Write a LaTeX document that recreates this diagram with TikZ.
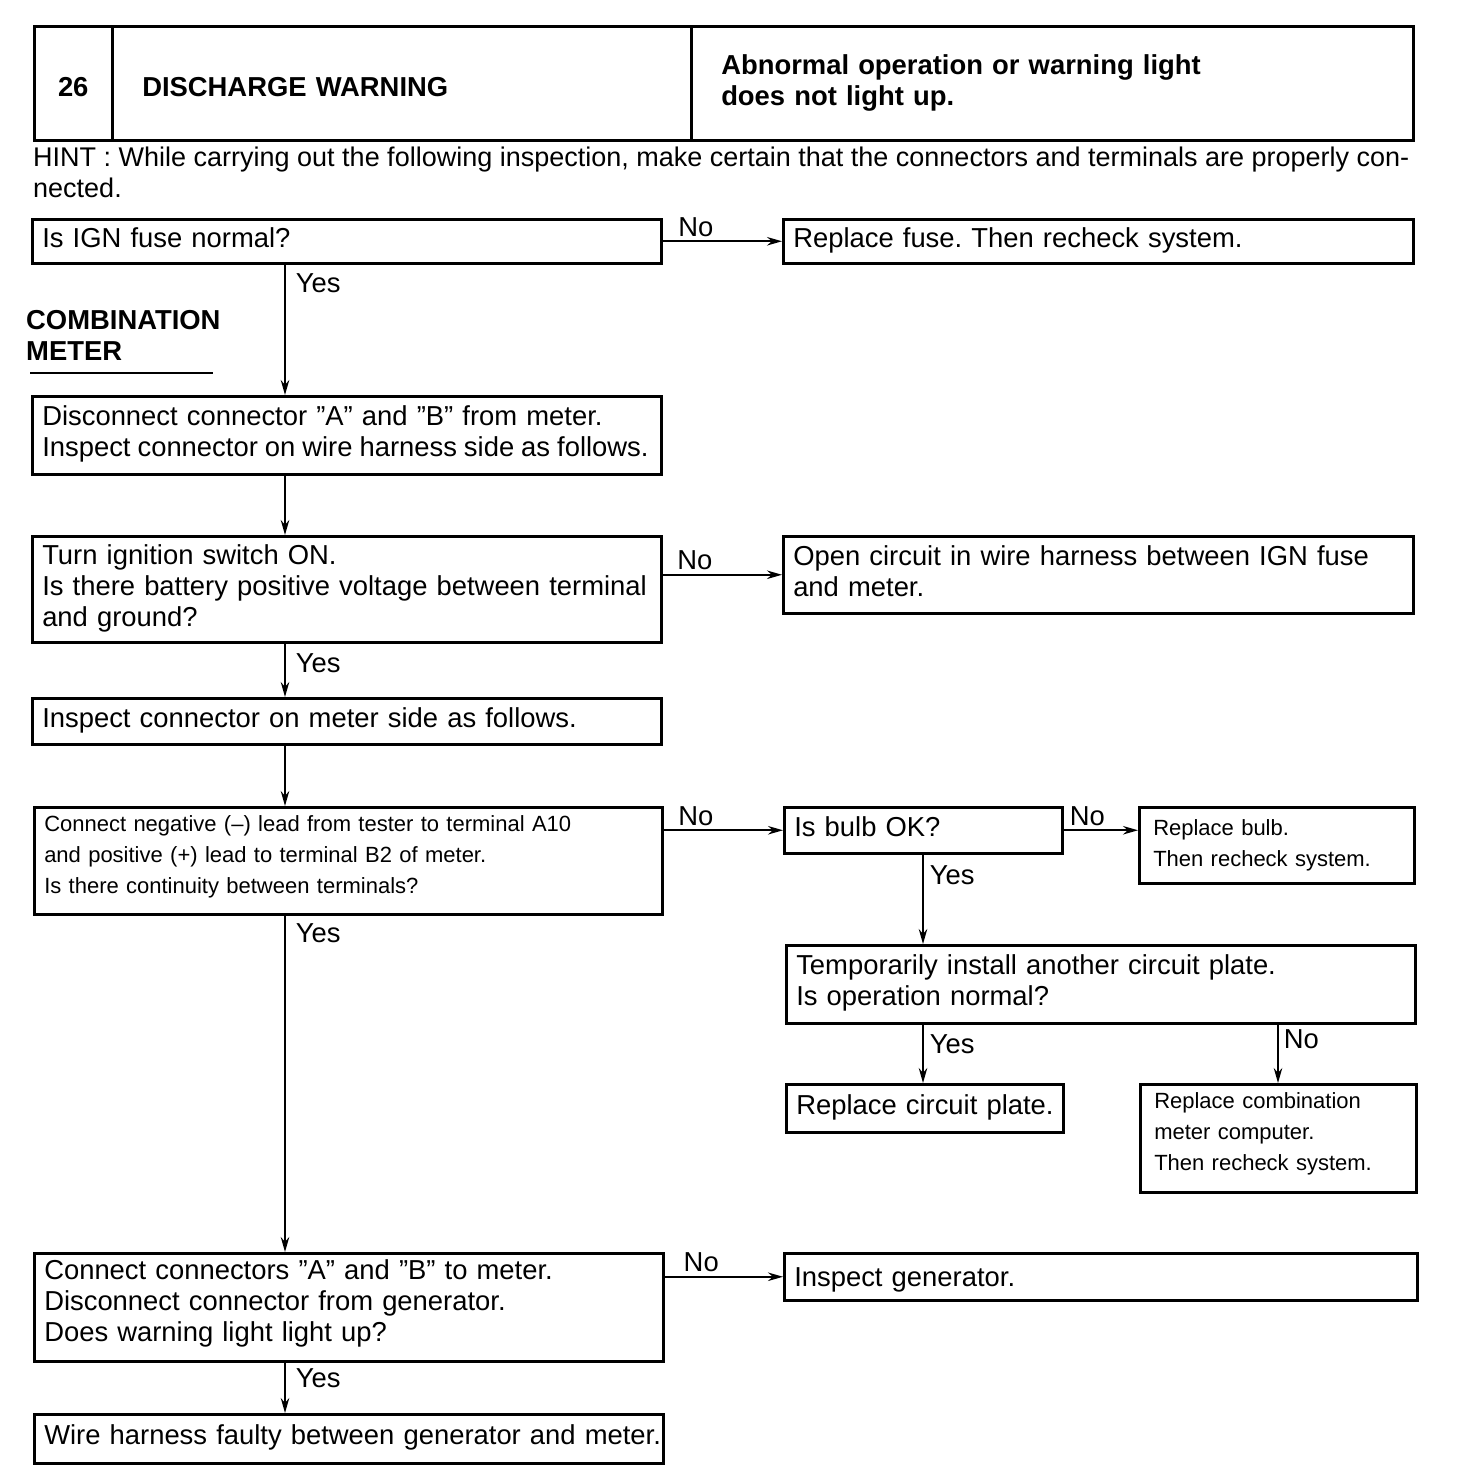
\documentclass[tikz,border=0pt]{standalone}
\usepackage{fontspec}
\setmainfont{Liberation Sans}
\usetikzlibrary{arrows.meta}
\newcommand\mainsz{\fontsize{27.4}{31}\selectfont}
\newcommand\smallsz{\fontsize{22}{31}\selectfont}
\newcommand\hintsz{\fontsize{27}{31}\selectfont}
\newcommand\oneline[1]{\mbox{#1}}
\frenchspacing
\begin{document}
\begin{tikzpicture}[x=1pt,y=-1pt,
  box/.style={draw, line width=2.5pt, anchor=north west, align=left, inner xsep=10pt, inner ysep=0pt, font=\mainsz\frenchspacing, execute at begin node=\strut, execute at end node=\strut},
  sbox/.style={box, font=\smallsz\frenchspacing},
  frame/.style={draw, line width=2.5pt, anchor=north west, inner sep=0pt},
  btext/.style={box, draw=none, anchor=center},
  sbtext/.style={sbox, draw=none, anchor=center},
  hbox/.style={draw, line width=2.5pt, anchor=north west, align=left, inner ysep=0pt, font=\mainsz\bfseries},
  arr/.style={line width=1.8pt, -{Stealth[length=15pt, width=8.5pt]}},
  nolbl/.style={anchor=south, inner sep=0pt, yshift=4pt, font=\mainsz},
  yeslbl/.style={anchor=west, inner sep=0pt, xshift=10pt, font=\mainsz}]
\useasboundingbox (0,0) rectangle (1472,1484);
% header
\node[hbox, minimum width=78pt, minimum height=114pt, align=center, inner xsep=0pt] (h1) at (33,25) {\raisebox{-4pt}[\height][0pt]{26}};
\node[hbox, minimum width=579pt, minimum height=114pt, text width=519pt, inner xsep=30pt] (h2) at (111,25) {\raisebox{-4pt}[\height][0pt]{DISCHARGE WARNING}};
\node[hbox, minimum width=722pt, minimum height=114pt, text width=662pt, inner xsep=30pt] (h3) at (690,25) {Abnormal operation or warning light\\does not light up.};
\node[anchor=north west, inner sep=0pt, align=left, font=\hintsz\frenchspacing] (hint) at (33,147) {\oneline{HINT : While carrying out the following inspection, make certain that the connectors and terminals are properly con-}\\nected.};
\node[anchor=north west, inner sep=0pt, align=left, font=\mainsz\bfseries] (cm) at (26,310) {COMBINATION\\METER};
\draw[line width=2pt] (30,373) -- (213,373);
\coordinate (c1) at (285,0);
\coordinate (c2) at (923,0);
\coordinate (c3) at (1278,0);
% boxes
\node[box, minimum width=629pt, text width=609pt, minimum height=44pt] (b1) at (31,218) {Is IGN fuse normal?};
\node[box, minimum width=630pt, text width=610pt, minimum height=44pt] (b2) at (782,218) {Replace fuse. Then recheck system.};
\node[box, minimum width=629pt, text width=609pt, minimum height=78pt] (b3) at (31,395) {\oneline{Disconnect connector ”A” and ”B” from meter.}\\\oneline{\spaceskip=0.255em\relax Inspect connector on wire harness side as follows.}};
\node[box, minimum width=629pt, text width=609pt, minimum height=106pt] (b4) at (31,535) {\oneline{Turn ignition switch ON.}\\\oneline{Is there battery positive voltage between terminal}\\and ground?};
\node[box, minimum width=630pt, text width=610pt, minimum height=77pt] (b5) at (782,535) {\oneline{Open circuit in wire harness between IGN fuse}\\and meter.};
\node[box, minimum width=629pt, text width=609pt, minimum height=46pt] (b6) at (31,697) {\oneline{Inspect connector on meter side as follows.}};
\node[frame, minimum width=628pt, minimum height=107pt] (b7) at (33,806) {};
\node[sbtext, text width=608pt, yshift=4pt] (b7t) at (b7.center) {\oneline{Connect negative (–) lead from tester to terminal A10}\\\oneline{and positive (+) lead to terminal B2 of meter.}\\\oneline{Is there continuity between terminals?}};
\node[box, minimum width=278pt, text width=258pt, minimum height=46pt] (b8) at (783,806) {Is bulb OK?};
\node[sbox, minimum width=275pt, minimum height=76pt, inner xsep=14pt, text width=247pt] (b9) at (1138,806) {\oneline{Replace bulb.}\\\oneline{Then recheck system.}};
\node[box, minimum width=629pt, text width=609pt, minimum height=78pt] (b10) at (785,944) {\oneline{Temporarily install another circuit plate.}\\\oneline{Is operation normal?}};
\node[box, minimum width=277pt, text width=257pt, minimum height=48pt] (b11) at (785,1083) {\oneline{Replace circuit plate.}};
\node[frame, minimum width=276pt, minimum height=108pt] (b12) at (1139,1083) {};
\node[sbtext, inner xsep=14pt, text width=248pt, yshift=5pt] (b12t) at (b12.center) {\oneline{Replace combination}\\\oneline{meter computer.}\\\oneline{Then recheck system.}};
\node[frame, minimum width=629pt, minimum height=108pt] (b13) at (33,1252) {};
\node[btext, text width=609pt, yshift=3pt] (b13t) at (b13.center) {\oneline{Connect connectors "A" and "B" to meter.}\\\oneline{Disconnect connector from generator.}\\\oneline{Does warning light light up?}};
\node[box, minimum width=633pt, text width=613pt, minimum height=47pt] (b14) at (783,1252) {\raisebox{-4pt}[\height][\depth]{Inspect generator.}};
\node[box, minimum width=629pt, text width=609pt, minimum height=49pt] (b15) at (33,1413) {\oneline{Wire harness faulty between generator and meter.}};
% connectors
\draw[arr] (b1.east) -- node[nolbl, pos=0.28] {No} (b2.west);
\draw[arr] (b1.south -| c1) -- node[yeslbl, pos=0.143] {Yes} (b3.north -| c1);
\draw[arr] (b3.south -| c1) -- (b4.north -| c1);
\draw[arr] (b4.east |- b5.west) -- node[nolbl, pos=0.27] {No} (b5.west);
\draw[arr] (b4.south -| c1) -- node[yeslbl, pos=0.375] {Yes} (b6.north -| c1);
\draw[arr] (b6.south -| c1) -- (b7.north -| c1);
\draw[arr] (b7.east |- b8.west) -- node[nolbl, pos=0.27] {No} (b8.west);
\draw[arr] (b8.east) -- node[nolbl, pos=0.32] {No} (b8.east -| b9.west);
\draw[arr] (b8.south -| c2) -- node[yeslbl, pos=0.228, xshift=-4pt] {Yes} (b10.north -| c2);
\draw[arr] (b10.south -| c2) -- node[yeslbl, pos=0.344, xshift=-4pt] {Yes} (b11.north -| c2);
\draw[arr] (b10.south -| c3) -- node[yeslbl, pos=0.246, xshift=-5pt] {No} (b12.north -| c3);
\draw[arr] (b7.south -| c1) -- node[yeslbl, pos=0.053] {Yes} (b13.north -| c1);
\draw[arr] (b13.east |- b14.west) -- node[nolbl, pos=0.31] {No} (b14.west);
\draw[arr] (b13.south -| c1) -- node[yeslbl, pos=0.32] {Yes} (b15.north -| c1);
\end{tikzpicture}
\end{document}
